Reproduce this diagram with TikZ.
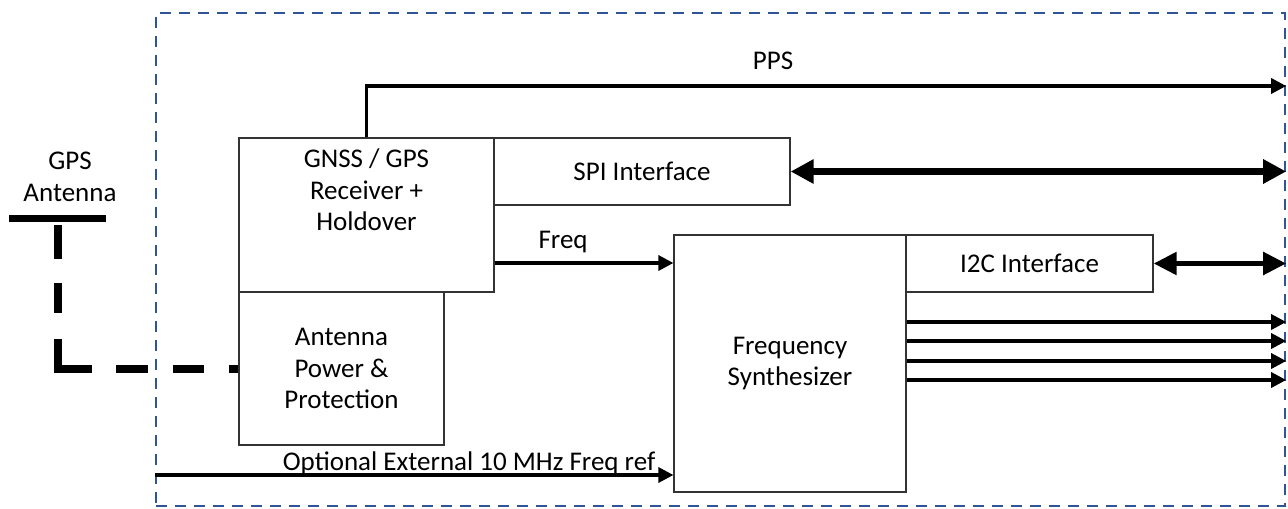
\documentclass[tikz,border=0pt]{standalone}
\usepackage{fontspec}
\setmainfont{Carlito}
\usetikzlibrary{arrows.meta}
\definecolor{frameblue}{RGB}{47,85,151}
\begin{document}
\begin{tikzpicture}[x=0.5pt,y=-0.5pt,
  every node/.style={font=\fontsize{13.5}{15.75}\selectfont},
  blk/.style={draw=black!80,line width=0.6pt,inner sep=0pt,align=center},
  sig/.style={line width=1.6pt,-{Triangle[length=7.5pt,width=7.5pt]}},
  spibus/.style={line width=3.2pt,{Triangle[length=11.5pt,width=11.5pt]}-{Triangle[length=11.5pt,width=11.5pt]}},
  i2cbus/.style={line width=2.6pt,{Triangle[length=11.5pt,width=11pt]}-{Triangle[length=11.5pt,width=11pt]}},
  antline/.style={line width=4pt,dash pattern=on 17pt off 12pt on 15pt off 13pt on 32pt off 12pt on 16pt off 12.5pt on 15.5pt off 12.5pt on 12pt off 12pt}
]
\useasboundingbox (0,0) rectangle (1288,508);
% frame
\node[draw=frameblue,line width=1.2pt,dash pattern=on 5.5pt off 4pt,inner sep=0pt,
      minimum width=564.5pt,minimum height=246.5pt] (frame) at (720.5,259.5) {};
% blocks
\node[blk,minimum width=127.5pt,minimum height=77pt,
      label={[align=center,yshift=12.5pt]center:GNSS / GPS\\Receiver +\\Holdover}] (gnss) at (366.5,215) {};
\node[blk,minimum width=148pt,minimum height=33.5pt] (spi) at (642,171.5) {SPI Interface};
\node[blk,minimum width=102.5pt,minimum height=76.5pt] (antpow) at (341.5,368.5) {Antenna\\Power \&\\Protection};
\node[blk,minimum width=116pt,minimum height=128.5pt] (synth) at (790,363.5) {Frequency\\Synthesizer};
\node[blk,minimum width=123.5pt,minimum height=28.5pt] (i2c) at (1029.5,263.5) {I2C Interface};
% antenna
\node[fill=black,inner sep=0pt,minimum width=48.5pt,minimum height=3.5pt] (antbar) at (57.5,218.5) {};
\node[align=center] (gpslbl) at (70,177) {GPS\\Antenna};
\coordinate (acorner) at (antbar.south |- antpow.west);
\draw[antline] ([yshift=-1.5pt]antbar.south) -- (acorner) -- (antpow.west);
% PPS
\coordinate (ppsR) at (frame.east |- 0,86);
\draw[sig] (gnss.north) |- (ppsR);
\node[anchor=base] (ppslbl) at (773,69) {PPS};
% SPI
\draw[spibus] (spi.east) -- (spi.east -| frame.east);
% Freq
\coordinate (yfreq) at (0,263);
\draw[sig] (gnss.east |- yfreq) -- (synth.west |- yfreq)
  node[pos=0.383,anchor=base,yshift=7.5pt] {Freq};
% I2C
\draw[i2cbus] (i2c.east) -- (i2c.east -| frame.east);
% outputs
\foreach \yy/\nm in {322/o1,341/o2,361/o3,380/o4}{
  \coordinate (\nm) at (frame.east |- 0,\yy);
  \draw[sig] (synth.east |- \nm) -- (\nm);
}
% external ref
\coordinate (extL) at (frame.west |- 0,475);
\draw[sig] (extL) -- (synth.west |- extL)
  node[pos=0.606,anchor=base,yshift=2.5pt] {Optional External 10 MHz Freq ref};
\end{tikzpicture}
\end{document}
